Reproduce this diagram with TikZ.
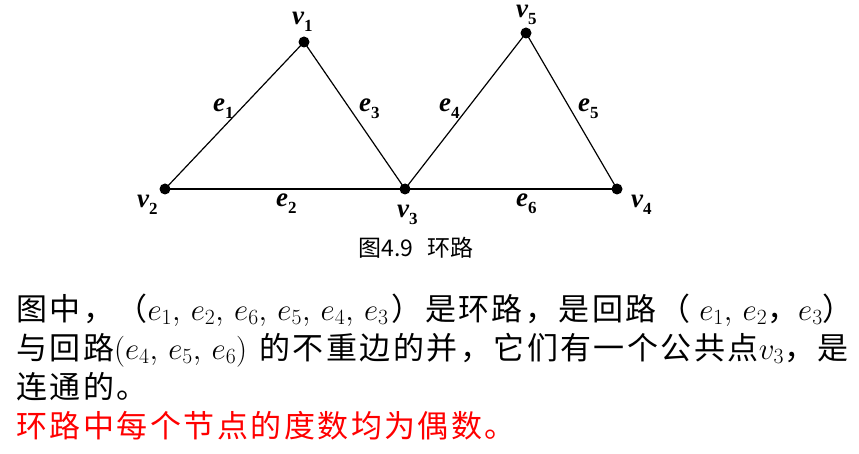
\RequirePackage{fix-cm}
\documentclass[tikz,border=0pt]{standalone}
\usepackage{fontspec}
\setmainfont{Liberation Serif}
\newfontfamily\cjk[LetterSpace=8]{Noto Sans CJK SC}
\newfontfamily\cjkcap{Noto Sans CJK SC}
\newcommand\gl[2]{{\bfseries\itshape #1}\raisebox{-7pt}{\fontsize{17}{17}\selectfont\bfseries #2}}
\tikzset{
  dot/.style={circle, fill=black, inner sep=0pt, minimum size=11pt},
  edge/.style={line width=1.2pt, black},
  lab/.style={inner sep=0pt, anchor=base west, font=\fontsize{27}{27}\selectfont},
  body/.style={anchor=base west, inner sep=0pt, font=\fontsize{31}{31}\selectfont},
}
\begin{document}
\begin{tikzpicture}[x=1pt,y=-1pt]
\useasboundingbox (0,0) rectangle (859,454);
\fill[white] (0,0) rectangle (859,454);
% vertices
\node[dot] (v1) at (304,42) {};
\node[dot] (v2) at (165,189) {};
\node[dot] (v3) at (405,189) {};
\node[dot] (v4) at (617,189) {};
\node[dot] (v5) at (526,33) {};
% edges
\draw[edge] (v2.center) -- (v1.center);
\draw[edge] (v1.center) -- (v3.center);
\draw[edge] (v2.center) -- (v3.center);
\draw[edge] (v3.center) -- (v5.center);
\draw[edge] (v5.center) -- (v4.center);
\draw[edge] (v3.center) -- (v4.center);
% vertex labels
\node[lab] (lv1) at (292,25) {\gl{v}{1}};
\node[lab] (lv2) at (137,208) {\gl{v}{2}};
\node[lab] (lv3) at (397,218) {\gl{v}{3}};
\node[lab] (lv4) at (631,208) {\gl{v}{4}};
\node[lab] (lv5) at (516,18) {\gl{v}{5}};
% edge labels
\node[lab] (le1) at (213,112) {\gl{e}{1}};
\node[lab] (le3) at (359,112) {\gl{e}{3}};
\node[lab] (le4) at (439,112) {\gl{e}{4}};
\node[lab] (le5) at (578,112) {\gl{e}{5}};
\node[lab] (le2) at (276,207) {\gl{e}{2}};
\node[lab] (le6) at (516,207) {\gl{e}{6}};
% caption
\node[inner sep=0pt, font=\fontsize{23}{23}\selectfont\cjkcap] (cap) at (416,248) {图4.9\hspace{14pt}环路};
% body text
\node[body] (l1) at (16,320) {{\cjk 图中，（}$e_1,\,e_2,\,e_6,\,e_5,\,e_4,\,e_3$\hspace{3pt}{\cjk ）是环路，是回路（}\hspace{9pt}$e_1,\,e_2${\cjk ，}$e_3${\cjk ）}};
\node[body] (l2) at (16,359) {{\cjk 与回路}$(e_4,\,e_5,\,e_6)$\hspace{12pt}{\cjk 的不重边的并，它们有一个公共点}$v_3${\cjk ，是}};
\node[body] (l3) at (16,398) {{\cjk 连通的。}};
\node[body, text=red] (l4) at (16,437) {{\cjk 环路中每个节点的度数均为偶数。}};
\end{tikzpicture}
\end{document}
